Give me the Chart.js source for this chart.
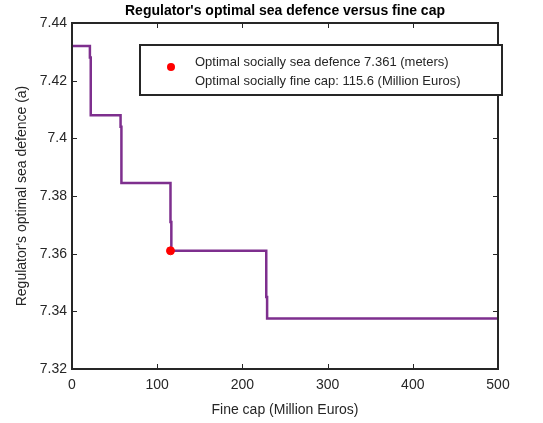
<!DOCTYPE html>
<html lang="en">
<head>
<meta charset="UTF-8">
<title>Regulator's optimal sea defence versus fine cap</title>
<script src="https://cdn.jsdelivr.net/npm/chart.js"></script>
<style>
  html, body { margin: 0; padding: 0; background: #fff; }
  #wrap { width: 543px; height: 423px; }
</style>
</head>
<body>
<div id="wrap"><canvas id="capChart"></canvas></div>

<script>
  // step curve corners: fine cap -> optimal sea defence (small jogs inside each drop)
  const fineCap    = [0,     21,    22,    57,    58,     115.6, 116.6, 228,    229,    500];
  const seaDefence = [7.432, 7.428, 7.408, 7.404, 7.3845, 7.371, 7.361, 7.345,  7.3375, 7.3375];

  // optimum marker
  const optimalCap = [115.6];
  const optimalSea = [7.361];

  const xTicks = [0, 100, 200, 300, 400, 500];
  const yTicks = [7.32, 7.34, 7.36, 7.38, 7.4, 7.42, 7.44];

  const legendLines = [
    'Optimal socially sea defence 7.361 (meters)',
    'Optimal socially fine cap: 115.6 (Million Euros)'
  ];

  const titleText = "Regulator's optimal sea defence versus fine cap";
  const font = '"Liberation Sans", Arial, sans-serif';

  // box, inward ticks, title and legend like the original figure
  const matlabBox = {
    id: 'matlabBox',
    afterDraw(chart) {
      const c = chart.ctx, a = chart.chartArea;
      const xs = chart.scales.x, ys = chart.scales.y;
      c.save();
      c.strokeStyle = '#262626';
      c.lineWidth = 1;
      c.beginPath();
      xTicks.forEach(v => {
        const px = Math.round(xs.getPixelForValue(v)) + 0.5;
        c.moveTo(px, a.bottom); c.lineTo(px, a.bottom - 5);
        c.moveTo(px, a.top); c.lineTo(px, a.top + 5);
      });
      yTicks.forEach(v => {
        const py = Math.round(ys.getPixelForValue(v)) + 0.5;
        c.moveTo(a.left, py); c.lineTo(a.left + 5, py);
        c.moveTo(a.right, py); c.lineTo(a.right - 5, py);
      });
      c.stroke();
      c.lineWidth = 2;
      c.strokeRect(a.left, a.top, a.right - a.left, a.bottom - a.top);

      // title
      c.fillStyle = '#000';
      c.font = 'bold 14px ' + font;
      c.textAlign = 'center';
      c.textBaseline = 'middle';
      c.fillText(titleText, (a.left + a.right) / 2, 11);

      // legend
      const lx = 140, ly = 45, lw = 362, lh = 50;
      c.fillStyle = '#fff';
      c.fillRect(lx, ly, lw, lh);
      c.lineWidth = 2;
      c.strokeStyle = '#262626';
      c.strokeRect(lx, ly, lw, lh);
      c.fillStyle = '#ff0000';
      c.beginPath();
      c.arc(lx + 31, ly + 22, 4, 0, Math.PI * 2);
      c.fill();
      c.fillStyle = '#262626';
      c.font = '13px ' + font;
      c.textAlign = 'left';
      legendLines.forEach((t, i) => c.fillText(t, lx + 55, ly + 17 + i * 19));
      c.restore();
    }
  };

  const ctx = document.getElementById('capChart').getContext('2d');
  new Chart(ctx, {
    type: 'line',
    data: {
      datasets: [
        {
          label: 'optimum',
          data: optimalCap.map((x, i) => ({ x: x, y: optimalSea[i] })),
          showLine: false,
          pointRadius: 4,
          pointBackgroundColor: '#ff0000',
          pointBorderColor: '#ff0000',
          order: 0
        },
        {
          label: 'sea defence',
          data: fineCap.map((x, i) => ({ x: x, y: seaDefence[i] })),
          stepped: 'before',
          borderColor: '#7E2F8E',
          borderWidth: 2.5,
          pointRadius: 0,
          fill: false,
          order: 1
        }
      ]
    },
    options: {
      responsive: true,
      maintainAspectRatio: false,
      animation: false,
      layout: { padding: { top: 23, right: 45, left: 0, bottom: 0 } },
      plugins: { legend: { display: false }, tooltip: { enabled: false } },
      scales: {
        x: {
          type: 'linear',
          min: 0, max: 500,
          afterBuildTicks: s => { s.ticks = xTicks.map(v => ({ value: v })); },
          afterFit: s => { s.height = 54; },
          grid: { display: false, drawTicks: false },
          border: { display: false },
          ticks: { color: '#262626', font: { family: font, size: 14 }, padding: 8, maxRotation: 0 },
          title: { display: true, text: 'Fine cap (Million Euros)', color: '#262626',
                   font: { family: font, size: 14 }, padding: { top: 0 } }
        },
        y: {
          type: 'linear',
          min: 7.32, max: 7.44,
          afterBuildTicks: s => { s.ticks = yTicks.map(v => ({ value: v })); },
          afterFit: s => { s.width = 72; },
          grid: { display: false, drawTicks: false },
          border: { display: false },
          ticks: { color: '#262626', font: { family: font, size: 14 }, padding: 5,
                   callback: v => v.toFixed(2).replace(/0$/, '') },
          title: { display: true, text: "Regulator's optimal sea defence (a)", color: '#262626',
                   font: { family: font, size: 14 }, padding: { top: 14, bottom: 0 } }
        }
      }
    },
    plugins: [matlabBox]
  });
</script>
</body>
</html>
